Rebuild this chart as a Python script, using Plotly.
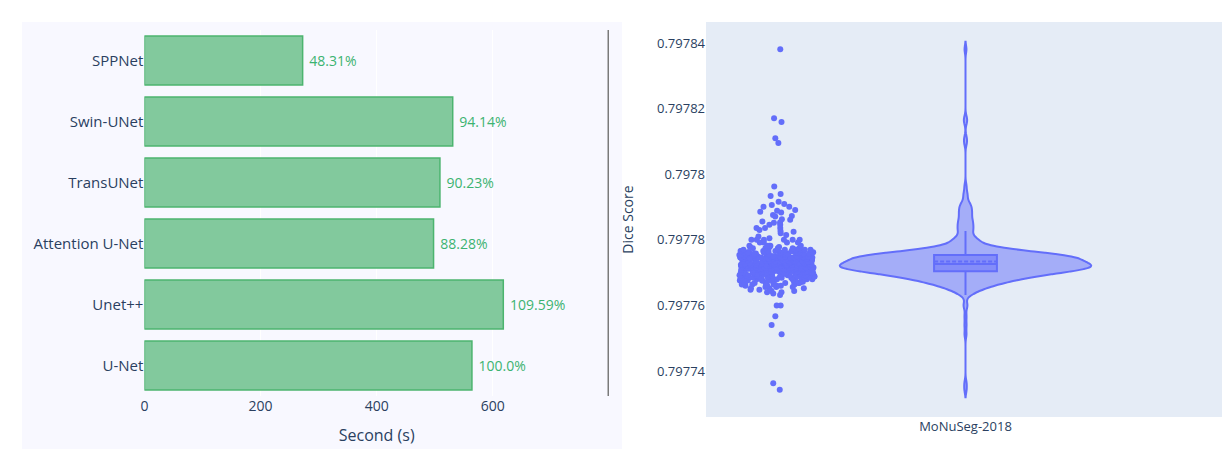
import numpy as np
import plotly.graph_objects as go

# ---------------- left chart: run time per model ----------------
models = ["U-Net", "Unet++", "Attention U-Net", "TransUNet", "Swin-UNet", "SPPNet"]
seconds = [564.0, 618.0, 497.9, 508.9, 530.9, 272.5]
relative_labels = ["100.0%", "109.59%", "88.28%", "90.23%", "94.14%", "48.31%"]
second_ticks = [0, 200, 400, 600]
second_range = [0, 800]

# ---------------- right chart: Dice score distribution ----------------
dataset_name = "MoNuSeg-2018"
dice_low_outliers = [0.7977343, 0.7977363, 0.7977512, 0.7977540, 0.7977567,
                     0.7977600, 0.7977600]
dice_levels = [0.7977632, 0.7977636, 0.7977640, 0.7977644, 0.7977648, 0.7977652,
               0.7977656, 0.7977660, 0.7977664, 0.7977668, 0.7977672, 0.7977676,
               0.7977680, 0.7977684, 0.7977688, 0.7977692, 0.7977696, 0.7977700,
               0.7977704, 0.7977708, 0.7977712, 0.7977716, 0.7977720, 0.7977724,
               0.7977726, 0.7977730, 0.7977734, 0.7977738, 0.7977742, 0.7977746,
               0.7977750, 0.7977754, 0.7977758, 0.7977762, 0.7977766, 0.7977770,
               0.7977774, 0.7977778]
dice_level_counts = [1, 1, 2, 2, 2, 3,
                     3, 4, 5, 6, 6, 7,
                     8, 9, 10, 11, 12, 15,
                     16, 18, 19, 20, 21, 20,
                     13, 14, 15, 16, 20, 20,
                     17, 15, 14, 11, 9, 7,
                     5, 3]
dice_upper_tail = [0.7977782, 0.7977782, 0.7977782, 0.7977782, 0.7977782,
                   0.7977792, 0.7977792, 0.7977792, 0.7977792,
                   0.7977800, 0.7977800, 0.7977800, 0.7977800, 0.7977800, 0.7977800,
                   0.7977805, 0.7977810, 0.7977815, 0.7977820, 0.7977825, 0.7977827,
                   0.7977830, 0.7977836, 0.7977836, 0.7977836, 0.7977846, 0.7977846,
                   0.7977852, 0.7977853, 0.7977856, 0.7977861, 0.7977863, 0.7977871,
                   0.7977873, 0.7977876, 0.7977883, 0.7977886, 0.7977889, 0.7977891,
                   0.7977901, 0.7977901, 0.7977906, 0.7977909, 0.7977916, 0.7977934,
                   0.7977940, 0.7977963]
dice_high_outliers = [0.7978095, 0.7978110, 0.7978159, 0.7978171, 0.7978381]

dice_scores = (dice_low_outliers
               + [float(v) for v in np.repeat(dice_levels, dice_level_counts)]
               + dice_upper_tail + dice_high_outliers)

W, H = 1227, 459

fig = go.Figure()

fig.add_trace(go.Bar(
    y=models, x=seconds, orientation="h",
    text=relative_labels, texttemplate=" %{text}", textposition="outside",
    textfont=dict(color="#3cb371", size=14),
    marker=dict(color="#82c99d", line=dict(color="#4cb46f", width=1.5)),
    xaxis="x", yaxis="y", showlegend=False, cliponaxis=False,
))

fig.add_trace(go.Violin(
    x=[dataset_name] * len(dice_scores), y=dice_scores,
    points="all", box_visible=True, meanline_visible=True,
    line_color="#636efa", xaxis="x2", yaxis="y2", showlegend=False,
))

fig.update_layout(
    width=W, height=H, autosize=False,
    margin=dict(l=0, r=0, t=0, b=0, autoexpand=False),
    paper_bgcolor="white", plot_bgcolor="rgba(0,0,0,0)",
    violinmode="group",
    font=dict(family="Open Sans, verdana, arial, sans-serif", color="#2a3f5f"),
    xaxis=dict(domain=[144.4 / W, 609 / W], anchor="y", range=second_range,
               tickvals=second_ticks, showgrid=True, gridcolor="white",
               zeroline=False, tickfont=dict(size=14), automargin=False,
               title=dict(text="Second (s)", font=dict(size=16))),
    yaxis=dict(domain=[(H - 396) / H, (H - 30) / H], anchor="x",
               showgrid=False, zeroline=False, tickfont=dict(size=15),
               automargin=False),
    xaxis2=dict(domain=[706 / W, 1222 / W], anchor="y2", showgrid=False,
                zeroline=False, tickfont=dict(size=13), automargin=False),
    yaxis2=dict(domain=[(H - 417) / H, (H - 22) / H], anchor="x2",
                showgrid=False, zeroline=False, tickfont=dict(size=13),
                automargin=False,
                title=dict(text="Dice Score", font=dict(size=14), standoff=20)),
    shapes=[
        dict(type="rect", xref="paper", yref="paper",
             x0=22 / W, x1=622 / W, y0=(H - 449) / H, y1=(H - 22) / H,
             fillcolor="ghostwhite", line=dict(width=0), layer="below"),
        dict(type="rect", xref="x2 domain", yref="y2 domain",
             x0=0, x1=1, y0=0, y1=1,
             fillcolor="#e5ecf6", line=dict(width=0), layer="below"),
        dict(type="line", xref="x", yref="y domain",
             x0=second_range[1], x1=second_range[1], y0=0, y1=1,
             line=dict(color="#7a7a7a", width=3)),
    ],
)

fig.write_html("out.html", post_script="document.body.style.margin='0';",
               config={"displayModeBar": False})
